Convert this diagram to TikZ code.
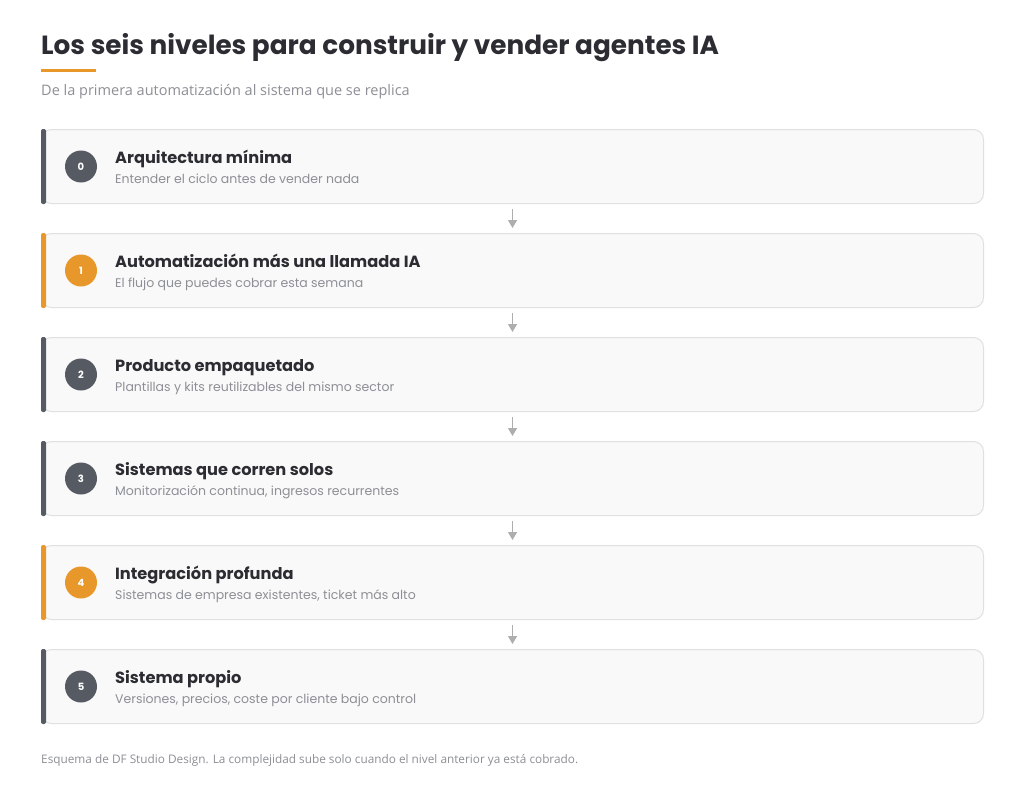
\documentclass[tikz,border=0pt]{standalone}
\usepackage{fontspec}
\setmainfont{Poppins}
\newfontfamily\notefont{Open Sans}
\usetikzlibrary{arrows.meta,positioning}

\definecolor{ink}{HTML}{2B2D33}
\definecolor{slate}{HTML}{555A63}
\definecolor{amber}{HTML}{E8972A}
\definecolor{muted}{HTML}{8C8F95}
\definecolor{cardbg}{HTML}{F9F9F9}
\definecolor{cardline}{HTML}{E0E0E0}
\definecolor{arrowgray}{HTML}{AEAEAE}

\begin{document}
\begin{tikzpicture}[x=1pt,y=-1pt,
  card/.style={draw=cardline,fill=cardbg,rounded corners=10pt,line width=1pt,
    minimum width=942pt,minimum height=74pt,inner sep=0pt,anchor=north west},
  num/.style={circle,minimum size=32pt,inner sep=0pt,text=white,
    font=\fontsize{10}{11}\selectfont\bfseries},
  head/.style={anchor=base west,text=ink,inner sep=0pt,
    font=\fontsize{16.2}{18}\selectfont\bfseries},
  sub/.style={anchor=base west,text=muted,inner sep=0pt,
    font=\fontsize{12.5}{14}\selectfont},
  link/.style={-{Triangle[length=8pt,width=9pt]},arrowgray,line width=1.4pt}]
\fill[white] (0,0) rectangle (1024,792);
\useasboundingbox (0,0) rectangle (1024,792);

% title block
\node[anchor=base west,inner sep=0pt,text=ink,font=\fontsize{26.3}{30}\selectfont\bfseries]
  (title) at (41,55) {Los seis niveles para construir y vender agentes IA};
\fill[amber] (41,69) rectangle (96,72);
\node[anchor=base west,inner sep=0pt,text=muted,font=\notefont\fontsize{14.5}{16}\selectfont]
  (subtitle) at (41,95) {De la primera automatización al sistema que se replica};

% cards
\node[card] (c0) at (41,129) {};
\node[card] (c1) at (41,233) {};
\node[card] (c2) at (41,337) {};
\node[card] (c3) at (41,441) {};
\node[card] (c4) at (41,545) {};
\node[card] (c5) at (41,649) {};

% side bars
\fill[slate,rounded corners=2pt] (c0.north west) rectangle ([xshift=5pt]c0.south west);
\fill[amber,rounded corners=2pt] (c1.north west) rectangle ([xshift=5pt]c1.south west);
\fill[slate,rounded corners=2pt] (c2.north west) rectangle ([xshift=5pt]c2.south west);
\fill[slate,rounded corners=2pt] (c3.north west) rectangle ([xshift=5pt]c3.south west);
\fill[amber,rounded corners=2pt] (c4.north west) rectangle ([xshift=5pt]c4.south west);
\fill[slate,rounded corners=2pt] (c5.north west) rectangle ([xshift=5pt]c5.south west);

% level numbers
\node[num,fill=slate] (n0) at ([xshift=40pt]c0.west) {0};
\node[num,fill=amber] (n1) at ([xshift=40pt]c1.west) {1};
\node[num,fill=slate] (n2) at ([xshift=40pt]c2.west) {2};
\node[num,fill=slate] (n3) at ([xshift=40pt]c3.west) {3};
\node[num,fill=amber] (n4) at ([xshift=40pt]c4.west) {4};
\node[num,fill=slate] (n5) at ([xshift=40pt]c5.west) {5};

% texts
\node[head] (h0) at ([xshift=74pt,yshift=-34pt]c0.north west) {Arquitectura mínima};
\node[sub]  (s0) at ([xshift=74pt,yshift=-54pt]c0.north west) {Entender el ciclo antes de vender nada};
\node[head] (h1) at ([xshift=74pt,yshift=-34pt]c1.north west) {Automatización más una llamada IA};
\node[sub]  (s1) at ([xshift=74pt,yshift=-54pt]c1.north west) {El flujo que puedes cobrar esta semana};
\node[head] (h2) at ([xshift=74pt,yshift=-34pt]c2.north west) {Producto empaquetado};
\node[sub]  (s2) at ([xshift=74pt,yshift=-54pt]c2.north west) {Plantillas y kits reutilizables del mismo sector};
\node[head] (h3) at ([xshift=74pt,yshift=-34pt]c3.north west) {Sistemas que corren solos};
\node[sub]  (s3) at ([xshift=74pt,yshift=-54pt]c3.north west) {Monitorización continua, ingresos recurrentes};
\node[head] (h4) at ([xshift=74pt,yshift=-34pt]c4.north west) {Integración profunda};
\node[sub]  (s4) at ([xshift=74pt,yshift=-54pt]c4.north west) {Sistemas de empresa existentes, ticket más alto};
\node[head] (h5) at ([xshift=74pt,yshift=-34pt]c5.north west) {Sistema propio};
\node[sub]  (s5) at ([xshift=74pt,yshift=-54pt]c5.north west) {Versiones, precios, coste por cliente bajo control};

% arrows between levels
\draw[link] ([yshift=-5pt]c0.south) -- ([yshift=5pt]c1.north);
\draw[link] ([yshift=-5pt]c1.south) -- ([yshift=5pt]c2.north);
\draw[link] ([yshift=-5pt]c2.south) -- ([yshift=5pt]c3.north);
\draw[link] ([yshift=-5pt]c3.south) -- ([yshift=5pt]c4.north);
\draw[link] ([yshift=-5pt]c4.south) -- ([yshift=5pt]c5.north);

% footer
\node[anchor=base west,inner sep=0pt,text=muted,font=\notefont\fontsize{11.8}{13}\selectfont]
  (note) at (41,763) {Esquema de DF Studio Design. La complejidad sube solo cuando el nivel anterior ya está cobrado.};
\end{tikzpicture}
\end{document}
